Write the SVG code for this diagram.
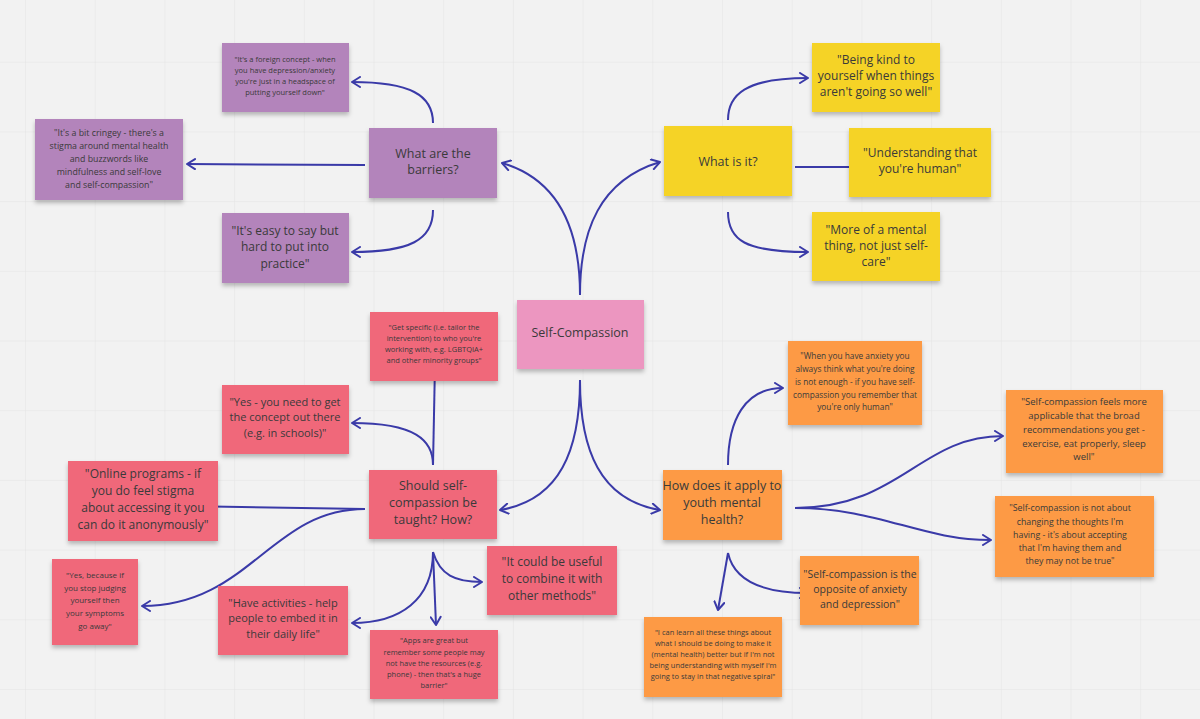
<svg xmlns="http://www.w3.org/2000/svg" width="1200" height="719" viewBox="0 0 1200 719">
<defs>
<pattern id="grid" x="25" y="-8" width="69.7" height="69.7" patternUnits="userSpaceOnUse"><path d="M0 0V69.7M0 0H69.7" fill="none" stroke="#e4e4e4" stroke-width="1"/></pattern>
<marker id="ah" viewBox="0 0 12 12" refX="10" refY="6" markerWidth="12" markerHeight="12" markerUnits="userSpaceOnUse" orient="auto"><path d="M2 1L10 6L2 11" fill="none" stroke="#3a3aa8" stroke-width="2" stroke-linecap="round" stroke-linejoin="round"/></marker>
<filter id="sh" x="-10%" y="-10%" width="120%" height="130%"><feDropShadow dx="0" dy="3" stdDeviation="2" flood-color="#000" flood-opacity="0.25"/></filter>
</defs>
<style>
text{font-family:"Open Sans","Noto Sans",sans-serif;fill:#3a3a3a;text-anchor:middle}
.p rect{fill:#b384bb;filter:url(#sh)}
.y rect{fill:#f5d327;filter:url(#sh)}
.k rect{fill:#ec96c0;filter:url(#sh)}
.r rect{fill:#f0687a;filter:url(#sh)}
.o rect{fill:#fd9a45;filter:url(#sh)}
.c path{fill:none;stroke:#3a3aa8;stroke-width:2;marker-end:url(#ah)}
</style>
<rect width="1200" height="719" fill="#f2f2f2"/>
<rect width="1200" height="719" fill="url(#grid)"/>
<g class="c" id="connectors">
<path d="M580 295C580 230 560 180 502 163"/>
<path d="M580 295C580 230 600 180 660 162"/>
<path d="M580 380C580 450 560 500 500 510"/>
<path d="M580 380C580 450 600 500 660 510"/>
<path d="M433 123C433 95 410 82 352 82"/>
<path d="M365 165L187 164"/>
<path d="M433 210C433 240 410 252 352 252"/>
<path d="M728 120C728 95 745 78 808 78"/>
<path d="M795 167L860 167"/>
<path d="M728 212C728 240 745 252 808 252"/>
<path d="M433 465L435 364"/>
<path d="M433 465C433 440 415 423 352 423"/>
<path d="M365 509L182 506"/>
<path d="M365 509C270 509 250 606 142 606"/>
<path d="M433 552C433 600 400 623 352 623"/>
<path d="M433 552L436 625"/>
<path d="M433 552C440 575 455 582 482 582"/>
<path d="M728 465C728 420 745 388 783 388"/>
<path d="M795 508C900 508 920 436 1003 436"/>
<path d="M795 508C880 508 920 540 991 540"/>
<path d="M728 553L718 610"/>
<path d="M728 553C735 585 770 593 808 593"/>
</g>
<g id="center" class="k"><rect x="517" y="300" width="127" height="69"/><text x="580" y="337" font-size="12.5">Self-Compassion</text></g>
<g id="barriers" class="p"><rect x="369" y="128" width="128" height="70"/><text font-size="12.5"><tspan x="433" y="158">What are the</tspan><tspan x="433" y="174">barriers?</tspan></text></g>
<g id="b1" class="p"><rect x="222" y="43" width="127" height="69"/><text font-size="7.5"><tspan x="285" y="62">"It's a foreign concept - when</tspan><tspan x="285" y="73">you have depression/anxiety</tspan><tspan x="285" y="84">you're just in a headspace of</tspan><tspan x="285" y="95">putting yourself down"</tspan></text></g>
<g id="b2" class="p"><rect x="35" y="119" width="148" height="81"/><text font-size="8.8"><tspan x="109" y="136">"It's a bit cringey - there's a</tspan><tspan x="109" y="149">stigma around mental health</tspan><tspan x="109" y="162">and buzzwords like</tspan><tspan x="109" y="175">mindfulness and self-love</tspan><tspan x="109" y="188">and self-compassion"</tspan></text></g>
<g id="b3" class="p"><rect x="222" y="213" width="127" height="70"/><text font-size="12"><tspan x="285" y="235">"It's easy to say but</tspan><tspan x="285" y="251">hard to put into</tspan><tspan x="285" y="268">practice"</tspan></text></g>
<g id="what" class="y"><rect x="664" y="126" width="128" height="70"/><text x="728" y="166" font-size="12.5">What is it?</text></g>
<g id="w1" class="y"><rect x="812" y="43" width="128" height="69"/><text font-size="12"><tspan x="876" y="64">"Being kind to</tspan><tspan x="876" y="80">yourself when things</tspan><tspan x="876" y="96">aren't going so well"</tspan></text></g>
<g id="w2" class="y"><rect x="849" y="128" width="142" height="69"/><text font-size="12"><tspan x="920" y="157">"Understanding that</tspan><tspan x="920" y="173">you're human"</tspan></text></g>
<g id="w3" class="y"><rect x="812" y="212" width="128" height="69"/><text font-size="12"><tspan x="876" y="234">"More of a mental</tspan><tspan x="876" y="250">thing, not just self-</tspan><tspan x="876" y="266">care"</tspan></text></g>
<g id="should" class="r"><rect x="369" y="470" width="128" height="69"/><text font-size="12.5"><tspan x="433" y="490">Should self-</tspan><tspan x="433" y="507">compassion be</tspan><tspan x="433" y="524">taught? How?</tspan></text></g>
<g id="s1" class="r"><rect x="370" y="312" width="128" height="69"/><text font-size="7.5"><tspan x="434" y="330">"Get specific (i.e. tailor the</tspan><tspan x="434" y="341">intervention) to who you're</tspan><tspan x="434" y="352">working with, e.g. LGBTQIA+</tspan><tspan x="434" y="363">and other minority groups"</tspan></text></g>
<g id="s2" class="r"><rect x="222" y="385" width="127" height="69"/><text font-size="11"><tspan x="285" y="406">"Yes - you need to get</tspan><tspan x="285" y="421">the concept out there</tspan><tspan x="285" y="437">(e.g. in schools)"</tspan></text></g>
<g id="s3" class="r"><rect x="68" y="461" width="150" height="80"/><text font-size="12"><tspan x="143" y="478">"Online programs - if</tspan><tspan x="143" y="495">you do feel stigma</tspan><tspan x="143" y="512">about accessing it you</tspan><tspan x="143" y="529">can do it anonymously"</tspan></text></g>
<g id="s4" class="r"><rect x="52" y="559" width="86" height="86"/><text font-size="8"><tspan x="95" y="578">"Yes, because if</tspan><tspan x="95" y="591">you stop judging</tspan><tspan x="95" y="603">yourself then</tspan><tspan x="95" y="616">your symptoms</tspan><tspan x="95" y="629">go away"</tspan></text></g>
<g id="s5" class="r"><rect x="218" y="586" width="130" height="69"/><text font-size="11"><tspan x="283" y="607">"Have activities - help</tspan><tspan x="283" y="622">people to embed it in</tspan><tspan x="283" y="638">their daily life"</tspan></text></g>
<g id="s6" class="r"><rect x="370" y="630" width="128" height="69"/><text font-size="7.5"><tspan x="434" y="643">"Apps are great but</tspan><tspan x="434" y="655">remember some people may</tspan><tspan x="434" y="666">not have the resources (e.g.</tspan><tspan x="434" y="677">phone) - then that's a huge</tspan><tspan x="434" y="688">barrier"</tspan></text></g>
<g id="s7" class="r"><rect x="487" y="546" width="130" height="69"/><text font-size="12"><tspan x="552" y="566">"It could be useful</tspan><tspan x="552" y="583">to combine it with</tspan><tspan x="552" y="600">other methods"</tspan></text></g>
<g id="how" class="o"><rect x="663" y="470" width="119" height="70"/><text font-size="12.5"><tspan x="722" y="490">How does it apply to</tspan><tspan x="722" y="507">youth mental</tspan><tspan x="722" y="524">health?</tspan></text></g>
<g id="h1" class="o"><rect x="788" y="341" width="134" height="84"/><text font-size="8.3"><tspan x="855" y="359">"When you have anxiety you</tspan><tspan x="855" y="372">always think what you're doing</tspan><tspan x="855" y="385">is not enough - if you have self-</tspan><tspan x="855" y="398">compassion you remember that</tspan><tspan x="855" y="410">you're only human"</tspan></text></g>
<g id="h2" class="o"><rect x="1006" y="390" width="157" height="83"/><text font-size="9.5"><tspan x="1084" y="405">"Self-compassion feels more</tspan><tspan x="1084" y="419">applicable that the broad</tspan><tspan x="1084" y="433">recommendations you get -</tspan><tspan x="1084" y="447">exercise, eat properly, sleep</tspan><tspan x="1084" y="460">well"</tspan></text></g>
<g id="h3" class="o"><rect x="995" y="496" width="159" height="81"/><text font-size="8.8"><tspan x="1070" y="511">"Self-compassion is not about</tspan><tspan x="1070" y="525">changing the thoughts I'm</tspan><tspan x="1070" y="538">having - it's about accepting</tspan><tspan x="1070" y="551">that I'm having them and</tspan><tspan x="1070" y="564">they may not be true"</tspan></text></g>
<g id="h4" class="o"><rect x="800" y="556" width="119" height="69"/><text font-size="10.5"><tspan x="860" y="578">"Self-compassion is the</tspan><tspan x="860" y="593">opposite of anxiety</tspan><tspan x="860" y="608">and depression"</tspan></text></g>
<g id="h5" class="o"><rect x="644" y="617" width="138" height="80"/><text font-size="7.5"><tspan x="713" y="635">"I can learn all these things about</tspan><tspan x="713" y="646">what I should be doing to make it</tspan><tspan x="713" y="657">(mental health) better but if I'm not</tspan><tspan x="713" y="668">being understanding with myself I'm</tspan><tspan x="713" y="679">going to stay in that negative spiral"</tspan></text></g>
</svg>
